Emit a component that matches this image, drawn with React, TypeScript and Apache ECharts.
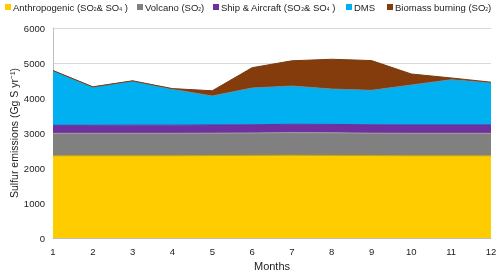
import React, { useEffect, useRef } from "react";
import * as echarts from "echarts";

const months = ["1", "2", "3", "4", "5", "6", "7", "8", "9", "10", "11", "12"];
const anthropogenic = [2350, 2350, 2350, 2350, 2355, 2360, 2365, 2360, 2355, 2350, 2350, 2350];
const volcano = [640, 640, 640, 640, 640, 640, 645, 645, 640, 640, 640, 640];
const shipAircraft = [230, 230, 235, 235, 235, 235, 240, 240, 240, 240, 240, 240];
const dms = [1560, 1094, 1261, 1023, 827, 1051, 1093, 1012, 984, 1141, 1293, 1207];
const biomass = [5, 5, 5, 20, 150, 580, 720, 850, 850, 315, 50, 15];
const yTicks = { min: 0, max: 6000, interval: 1000 };

const seriesDefs = [
  { name: "Anthropogenic (SO\u2082& SO\u2084 )", data: anthropogenic, color: "#FFCC00", line: "#C9A200" },
  { name: "Volcano (SO\u2082)", data: volcano, color: "#808080", line: "#A0A0A0" },
  { name: "Ship & Aircraft (SO\u2082& SO\u2084 )", data: shipAircraft, color: "#7030A0", line: "#6A2E98" },
  { name: "DMS", data: dms, color: "#00B0F0", line: "#5A8FA8" },
  { name: "Biomass burning (SO\u2082)", data: biomass, color: "#843C0C", line: "#7A3A10" },
];
const legendLeft = [5, 137, 213, 346, 387];

const FONT = "Liberation Sans, Arial, sans-serif";

const richLegend = (name: string) =>
  name
    .split(/([\u2082\u2084])/)
    .map((part) =>
      part === "\u2082" ? "{sub|2}" : part === "\u2084" ? "{sub|4}" : part ? `{n|${part}}` : ""
    )
    .join("");

export default function App() {
  const ref = useRef<HTMLDivElement>(null);
  useEffect(() => {
    if (!ref.current) return;
    const chart = echarts.init(ref.current, null, { renderer: "svg" });
    chart.setOption({
      animation: false,
      textStyle: { fontFamily: FONT },
      legend: seriesDefs.map((s, i) => ({
        top: 2,
        left: legendLeft[i],
        padding: 0,
        itemWidth: 6,
        itemHeight: 6,
        icon: "rect",
        formatter: richLegend,
        textStyle: {
          fontSize: 9.5,
          color: "#222",
          padding: [0, 0, 0, -3],
          rich: {
            n: { fontSize: 9.5, color: "#222", fontFamily: FONT },
            sub: { fontSize: 5, color: "#222", padding: [4, 0, 0, 0], fontFamily: FONT },
          },
        },
        data: [s.name],
      })),
      grid: { left: 53, right: 9, top: 28, bottom: 34, outerBoundsMode: "none", containLabel: false },
      xAxis: {
        type: "category",
        data: months,
        boundaryGap: false,
        name: "Months",
        nameLocation: "middle",
        nameGap: 22,
        nameMoveOverlap: false,
        nameTextStyle: { fontSize: 11, color: "#222" },
        axisLine: { show: true, lineStyle: { color: "#BFBFBF" } },
        axisTick: { show: false },
        axisLabel: { fontSize: 9.5, color: "#222", margin: 8 },
      },
      yAxis: {
        type: "value",
        min: yTicks.min,
        max: yTicks.max,
        interval: yTicks.interval,
        name: "Sulfur emissions (Gg S yr\u207B\u00B9)",
        nameLocation: "middle",
        nameGap: 34,
        nameMoveOverlap: false,
        nameTextStyle: { fontSize: 10.5, color: "#222" },
        axisLine: { show: true, lineStyle: { color: "#BFBFBF" } },
        axisTick: { show: false },
        axisLabel: { fontSize: 9.5, color: "#222", margin: 8, formatter: (v: number) => String(v) },
        splitLine: { lineStyle: { color: "#D9D9D9" } },
      },
      series: seriesDefs.map((s) => ({
        name: s.name,
        type: "line",
        stack: "total",
        data: s.data,
        symbol: "none",
        itemStyle: { color: s.color },
        lineStyle: { width: 1, color: s.line },
        areaStyle: { color: s.color, opacity: 1 },
      })),
    });
    return () => chart.dispose();
  }, []);
  return <div ref={ref} style={{ position: "fixed", left: 0, top: 0, width: 500, height: 272 }} />;
}
